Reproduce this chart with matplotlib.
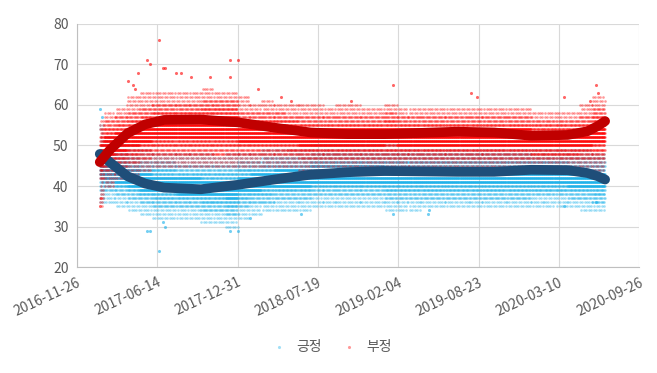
import numpy as np
import pandas as pd
import matplotlib
matplotlib.use("Agg")
import matplotlib.pyplot as plt

plt.rcParams['font.family'] = ['Noto Sans CJK KR', 'DejaVu Sans']

# 월별 구간 시작일 (마지막 값은 데이터 끝)
month_starts = list(pd.date_range('2017-02-01', '2020-06-01', freq='MS').strftime('%Y-%m-%d'))
seg_dates = ['2017-01-22'] + month_starts + ['2020-07-03']

# 부정: 빽빽한 범위 / 드문 범위 (월별, 2017-01 ~ 2020-06)
neg_dense_lo = [42, 44, 45, 46, 47, 48, 48, 48, 48, 48, 48, 48,
                48, 48, 48, 48, 48, 47, 47, 47, 47, 47, 47, 47,
                47, 47, 47, 47, 47, 47, 47, 47, 47, 47, 47, 47,
                47, 47, 47, 47, 47, 47]
neg_dense_hi = [54, 56, 57, 58, 59, 60, 60, 60, 60, 61, 61, 61,
                58, 58, 58, 58, 57, 57, 57, 57, 57, 57, 57, 57,
                58, 57, 57, 57, 57, 57, 57, 57, 57, 57, 57, 57,
                56, 56, 56, 56, 57, 59]
neg_sparse_lo = [35, 40, 42, 43, 44, 45, 45, 45, 45, 45, 45, 45,
                 45, 45, 45, 45, 45, 44, 44, 44, 44, 44, 44, 44,
                 44, 44, 44, 44, 44, 44, 44, 44, 44, 44, 44, 44,
                 44, 44, 44, 44, 44, 44]
neg_sparse_hi = [56, 58, 59, 62, 63, 63, 63, 63, 63, 64, 63, 63,
                 62, 60, 61, 60, 60, 60, 60, 59, 60, 60, 59, 59,
                 60, 59, 59, 59, 59, 59, 59, 59, 59, 59, 59, 59,
                 58, 58, 58, 58, 60, 62]

# 긍정
pos_dense_lo = [39, 39, 38, 37, 36, 35, 35, 35, 35, 34, 34, 33,
                35, 36, 36, 37, 37, 37, 38, 38, 38, 38, 38, 38,
                37, 37, 37, 37, 37, 37, 37, 37, 37, 37, 37, 37,
                38, 38, 38, 37, 37, 36]
pos_dense_hi = [50, 49, 48, 47, 46, 46, 46, 45, 45, 45, 45, 45,
                46, 46, 47, 47, 47, 47, 48, 48, 48, 48, 48, 48,
                48, 48, 48, 48, 48, 48, 48, 48, 48, 48, 48, 48,
                47, 47, 47, 47, 47, 47]
pos_sparse_lo = [36, 36, 35, 34, 33, 32, 32, 32, 32, 31, 31, 30,
                 32, 33, 34, 34, 34, 34, 35, 35, 35, 35, 35, 35,
                 34, 34, 34, 35, 35, 35, 35, 35, 35, 35, 35, 35,
                 35, 35, 35, 35, 34, 34]
pos_sparse_hi = [55, 52, 51, 50, 49, 48, 48, 48, 48, 48, 47, 48,
                 48, 48, 49, 49, 49, 49, 50, 50, 50, 50, 50, 50,
                 50, 49, 49, 49, 49, 49, 49, 49, 49, 49, 49, 49,
                 49, 49, 49, 49, 49, 48]

# 튀는 값들
neg_outlier_dates = ['2017-05-20', '2017-05-27', '2017-06-19', '2017-06-29', '2017-07-04',
                     '2017-04-02', '2017-04-15', '2017-04-20', '2017-04-27', '2017-07-31',
                     '2017-08-13', '2017-09-05', '2017-10-23', '2017-12-11', '2017-12-31',
                     '2017-12-11', '2018-02-21', '2018-04-17', '2018-05-12', '2019-01-22',
                     '2018-10-09', '2019-08-05', '2019-08-20', '2020-03-22', '2020-06-10',
                     '2020-06-15', '2020-05-26', '2017-01-22', '2017-01-24']
neg_outlier_vals = [71, 70, 76, 69, 69, 66, 65, 64, 68, 68, 68, 67, 67, 71, 71, 67, 64, 62, 61,
                    65, 61, 63, 62, 62, 65, 63, 61, 35, 37]
pos_outlier_dates = ['2017-06-19', '2017-05-20', '2017-05-27', '2017-06-29', '2017-07-04',
                     '2017-12-11', '2017-12-31', '2018-02-01', '2018-06-06', '2019-01-22',
                     '2019-04-22', '2019-04-18', '2020-03-22', '2020-06-10', '2017-01-22',
                     '2017-01-27']
pos_outlier_vals = [24, 29, 29, 31, 30, 29, 29, 32, 33, 33, 34, 33, 35, 36, 59, 57]

# 추세선
trend_dates = ['2017-01-22', '2017-02-17', '2017-04-01', '2017-05-15', '2017-07-01',
               '2017-10-01', '2018-01-01', '2018-04-01', '2018-07-01', '2018-10-01',
               '2019-01-01', '2019-04-01', '2019-07-01', '2019-10-01', '2020-01-01',
               '2020-04-01', '2020-05-20', '2020-06-15', '2020-07-03']
neg_trend = [45.9, 49.0, 53.0, 55.2, 56.3, 56.4, 55.7, 54.4, 53.2, 52.8, 52.8, 53.1, 53.4,
             53.2, 52.4, 52.6, 53.5, 54.8, 56.0]
pos_trend = [47.9, 45.8, 42.4, 40.6, 39.6, 39.2, 40.3, 41.6, 42.8, 43.4, 43.7, 43.6, 43.5,
             43.5, 44.0, 43.9, 43.2, 42.4, 41.6]


def band_points(lo, hi, olo, ohi):
    # 가운데 줄일수록 촘촘하게, 가장자리는 드문드문 점을 찍음
    xs, ys = [], []
    d = pd.to_datetime(seg_dates)
    for i in range(len(lo)):
        days = pd.date_range(d[i], d[i + 1] - pd.Timedelta(days=1), freq='D')
        mid = (lo[i] + hi[i]) / 2
        half = max((hi[i] - lo[i]) / 2, 1)
        for v in range(lo[i], hi[i] + 1):
            rel = abs(v - mid) / half
            step = 1 if rel < 0.45 else (2 if rel < 0.8 else 3)
            sel = days[v % step::step]
            xs.extend(sel)
            ys.extend([v] * len(sel))
        edge = list(range(olo[i], lo[i])) + list(range(hi[i] + 1, ohi[i] + 1))
        for v in edge:
            sel = days[v % 6::6]
            xs.extend(sel)
            ys.extend([v] * len(sel))
    return xs, ys


fig = plt.figure(figsize=(6.57, 3.73), dpi=100)
ax = fig.add_axes([0.117, 0.284, 0.856, 0.652])

px, py = band_points(pos_dense_lo, pos_dense_hi, pos_sparse_lo, pos_sparse_hi)
nx, ny = band_points(neg_dense_lo, neg_dense_hi, neg_sparse_lo, neg_sparse_hi)

ax.scatter(px, py, s=3.5, color='#17b0ea', alpha=0.4, linewidths=0, label='긍정', zorder=2)
ax.scatter(pd.to_datetime(pos_outlier_dates), pos_outlier_vals, s=5, color='#17b0ea',
           alpha=0.6, linewidths=0, zorder=2)
ax.scatter(nx, ny, s=3.5, color='#ff0000', alpha=0.4, linewidths=0, label='부정', zorder=3)
ax.scatter(pd.to_datetime(neg_outlier_dates), neg_outlier_vals, s=5, color='#ff0000',
           alpha=0.6, linewidths=0, zorder=3)

td = pd.to_datetime(trend_dates)
ax.plot(td, pos_trend, color='#1f4e79', lw=7, solid_capstyle='round', zorder=4)
ax.plot(td, neg_trend, color='#c00000', lw=7, solid_capstyle='round', zorder=5)

ticks = pd.date_range('2016-11-26', periods=8, freq='200D')
ax.set_xticks(ticks)
ax.set_xticklabels([t.strftime('%Y-%m-%d') for t in ticks], rotation=25, ha='right',
                   rotation_mode='anchor')
ax.set_xlim(ticks[0], ticks[-1])
ax.set_ylim(20, 80)
ax.set_yticks(range(20, 81, 10))

ax.grid(True, color='#d9d9d9', lw=0.8)
ax.set_axisbelow(True)
for s in ['top', 'right']:
    ax.spines[s].set_visible(False)
for s in ['left', 'bottom']:
    ax.spines[s].set_color('#bfbfbf')
ax.tick_params(length=0, labelsize=10, labelcolor='#595959', pad=6)

leg = fig.legend(loc='center', bbox_to_anchor=(0.5, 0.07), ncol=2, frameon=False,
                 fontsize=10, markerscale=1.2, handletextpad=0.2, columnspacing=1.0,
                 labelcolor='#595959')

fig.savefig('out.png', dpi=100)
